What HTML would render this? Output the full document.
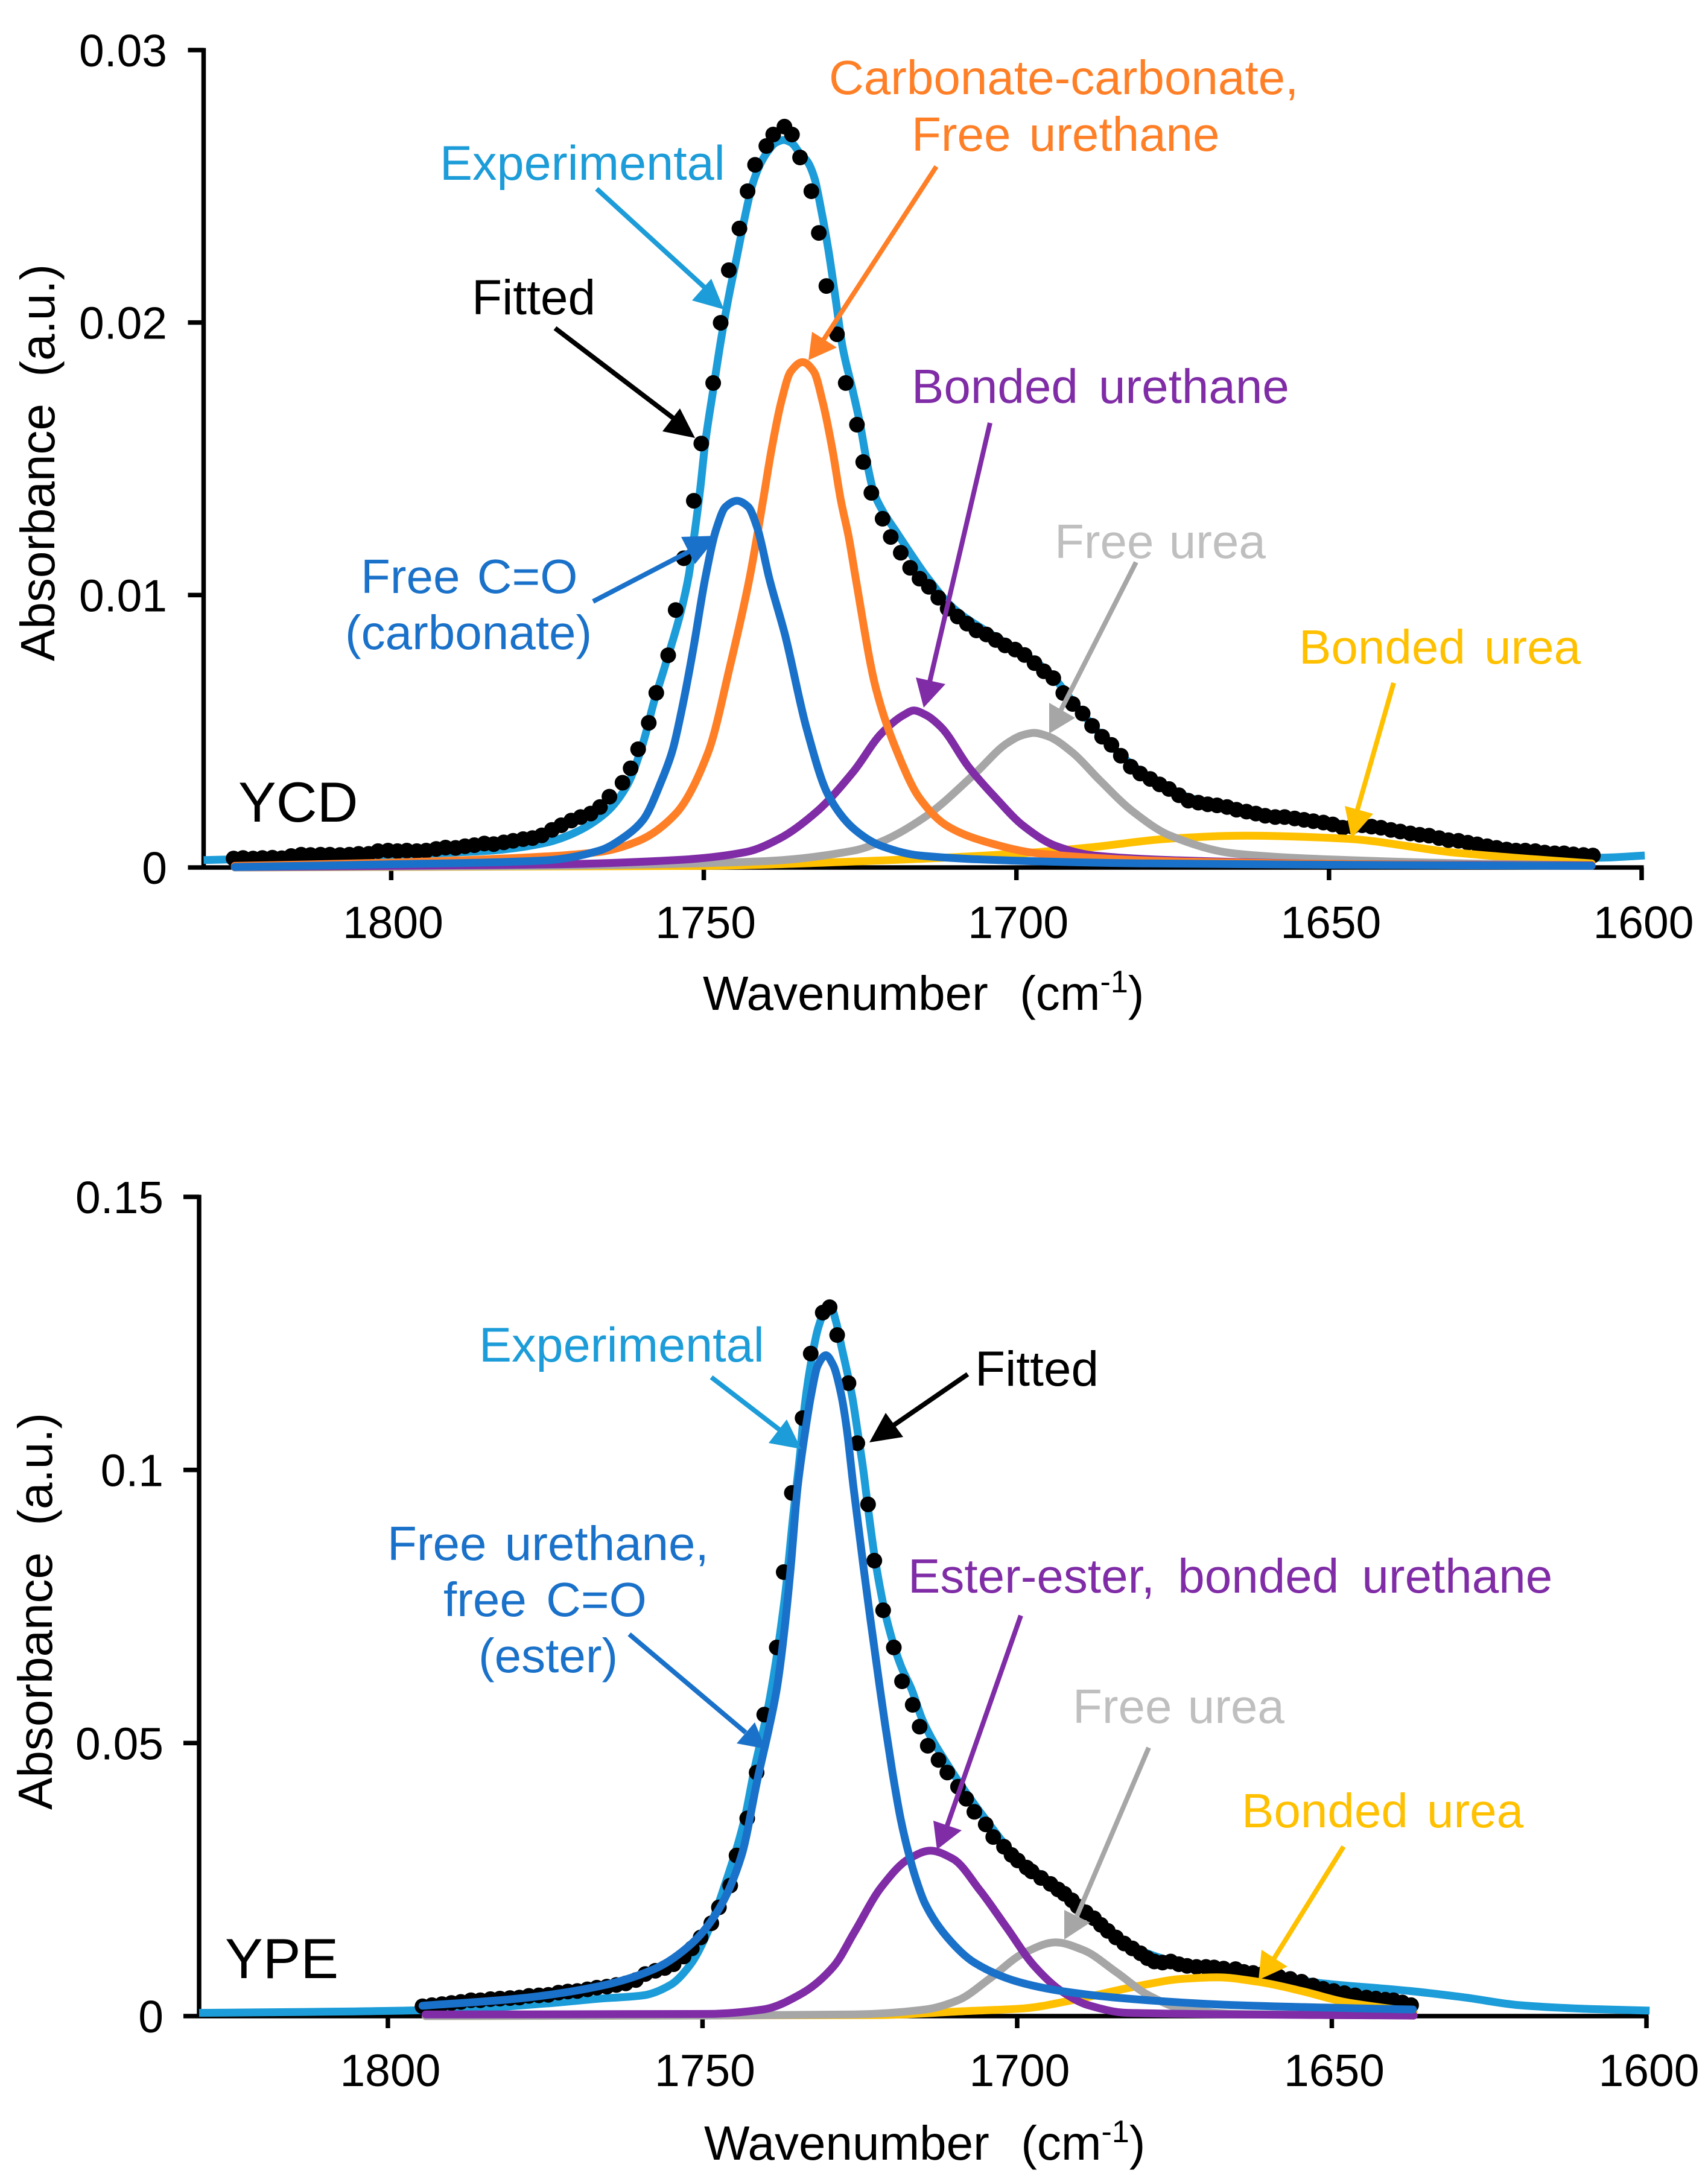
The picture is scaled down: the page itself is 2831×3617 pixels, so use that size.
<!DOCTYPE html>
<html lang="en">
<head>
<meta charset="utf-8">
<title>YCD and YPE carbonyl peak deconvolution</title>
<style>
html,body{margin:0;padding:0;background:#fff}
svg{display:block}
text{font-family:"Liberation Sans",Arial,sans-serif;white-space:pre}
.ann{font-size:80px}
.tick{font-size:75px;fill:#000}
</style>
</head>
<body>
<svg id="fig" xmlns="http://www.w3.org/2000/svg" width="2831" height="3617" viewBox="0 0 2831 3617">
<rect x="0" y="0" width="2831" height="3617" fill="#fff"/>
<g id="p1"></g>
<g id="p2"></g>

<!-- Panel 1 static labels -->
<text x="90" y="1096" transform="rotate(-90 90 1096)" class="ann">Absorbance  (a.u.)</text>
<text x="1165" y="1674" class="ann" style="word-spacing:4px">Wavenumber  (cm<tspan font-size="52" dy="-29">-1</tspan><tspan dy="29">)</tspan></text>
<text x="395" y="1362" font-size="94">YCD</text>
<text x="729" y="298" class="ann" style="font-size:81px" fill="#1c9cd8">Experimental</text>
<text x="782" y="521" class="ann" style="font-size:82px" fill="#000">Fitted</text>
<text x="1374" y="156" class="ann" fill="#ff7f27">Carbonate-carbonate,</text>
<text x="1511" y="250" class="ann" style="word-spacing:8px" fill="#ff7f27">Free urethane</text>
<text x="1511" y="668" class="ann" style="word-spacing:12px" fill="#7f2ca6">Bonded urethane</text>
<text x="1748" y="925" class="ann" style="word-spacing:3px" fill="#bfbfbf">Free urea</text>
<text x="2153" y="1100" class="ann" style="word-spacing:9px" fill="#ffc000">Bonded urea</text>
<text x="598" y="983" class="ann" style="word-spacing:6px" fill="#1a71c9">Free C=O</text>
<text x="572" y="1076" class="ann" fill="#1a71c9">(carbonate)</text>

<!-- Panel 2 static labels -->
<text x="86" y="3000" transform="rotate(-90 86 3000)" class="ann">Absorbance  (a.u.)</text>
<text x="1167" y="3580" class="ann" style="word-spacing:4px">Wavenumber  (cm<tspan font-size="52" dy="-29">-1</tspan><tspan dy="29">)</tspan></text>
<text x="373" y="3279" font-size="94">YPE</text>
<text x="794" y="2257" class="ann" style="font-size:81px" fill="#1c9cd8">Experimental</text>
<text x="1616" y="2297" class="ann" style="font-size:82px" fill="#000">Fitted</text>
<text x="642" y="2586" class="ann" style="word-spacing:8px" fill="#1a71c9">Free urethane,</text>
<text x="735" y="2679" class="ann" style="word-spacing:10px" fill="#1a71c9">free C=O</text>
<text x="793" y="2772" class="ann" fill="#1a71c9">(ester)</text>
<text x="1505" y="2640" class="ann" style="word-spacing:16px" fill="#7f2ca6">Ester-ester, bonded urethane</text>
<text x="1778" y="2856" class="ann" style="word-spacing:4px" fill="#bfbfbf">Free urea</text>
<text x="2058" y="3029" class="ann" style="word-spacing:9px" fill="#ffc000">Bonded urea</text>

<!-- Annotation arrows -->
<g stroke-width="8">
<g><line x1="989" y1="313" x2="1175" y2="483" stroke="#1c9cd8"/><polygon points="1200,513 1179,462 1147,498" fill="#1c9cd8"/></g>
<g><line x1="920" y1="544" x2="1125" y2="700" stroke="#000"/><polygon points="1152,726 1127,677 1098,715" fill="#000"/></g>
<g><line x1="1552" y1="276" x2="1362" y2="568" stroke="#ff7f27"/><polygon points="1340,597 1346,550 1387,576" fill="#ff7f27"/></g>
<g><line x1="983" y1="997" x2="1160" y2="905" stroke="#1a71c9"/><polygon points="1190,888 1129,890 1152,935" fill="#1a71c9"/></g>
<g><line x1="1641" y1="701" x2="1541" y2="1130" stroke="#7f2ca6"/><polygon points="1531,1173 1518,1123 1567,1134" fill="#7f2ca6"/></g>
<g><line x1="1883" y1="932" x2="1758" y2="1178" stroke="#a6a6a6"/><polygon points="1739,1216 1739,1165 1782,1190" fill="#a6a6a6"/></g>
<g><line x1="2310" y1="1132" x2="2250" y2="1342" stroke="#ffc000"/><polygon points="2240,1390 2229,1336 2276,1349" fill="#ffc000"/></g>
<g><line x1="1179" y1="2283" x2="1292" y2="2370" stroke="#1c9cd8"/><polygon points="1328,2402 1304,2353 1274,2392" fill="#1c9cd8"/></g>
<g><line x1="1604" y1="2278" x2="1482" y2="2362" stroke="#000"/><polygon points="1441,2391 1468,2342 1497,2382" fill="#000"/></g>
<g><line x1="1043" y1="2709" x2="1236" y2="2872" stroke="#1a71c9"/><polygon points="1269,2899 1251,2855 1221,2890" fill="#1a71c9"/></g>
<g><line x1="1692" y1="2678" x2="1570" y2="3026" stroke="#7f2ca6"/><polygon points="1553,3066 1547,3018 1594,3034" fill="#7f2ca6"/></g>
<g><line x1="1904" y1="2897" x2="1785" y2="3176" stroke="#a6a6a6"/><polygon points="1764,3215 1764,3166 1807,3187" fill="#a6a6a6"/></g>
<g><line x1="2227" y1="3061" x2="2112" y2="3246" stroke="#ffc000"/><polygon points="2086,3282 2091,3232 2134,3260" fill="#ffc000"/></g>
</g>
</svg>

<script>
// ===== shared axis labels =====
const xTicks = [1800, 1750, 1700, 1650, 1600];

// ===== YCD panel data =====
const ycdYTicks = [0, 0.01, 0.02, 0.03];
const ycdYTickLabels = ["0", "0.01", "0.02", "0.03"];

const ycdExpW = [1830,1815,1800,1790,1784,1775.4,1771,1765.8,1762.3,1759.7,1758,1756.2,1753.6,1752.4,1751.6,1750.6,1749.8,1748.5,1747.2,1745.8,1744.9,1743.5,1742.3,1741,1739.7,1738.5,1737.2,1736,1734.6,1733.4,1732.3,1731.2,1730.1,1729,1727.8,1726.2,1725,1723.9,1722.8,1721.4,1719.1,1717.2,1714.3,1710,1705,1700,1695,1690,1685,1680,1675,1670,1660,1650,1640,1630,1620,1610,1606.5,1599.5];
const ycdExpA = [0.00027,0.00036,0.00045,0.00055,0.00062,0.0009,0.00124,0.00198,0.003,0.00458,0.00605,0.0074,0.00945,0.01073,0.01206,0.01383,0.01553,0.01752,0.01944,0.0212,0.0222,0.0238,0.025,0.0258,0.0263,0.0266,0.0267,0.0266,0.0262,0.0259,0.0253,0.0241,0.0227,0.021,0.0191,0.01752,0.01627,0.01486,0.01376,0.01309,0.01228,0.01162,0.01066,0.0095,0.0087,0.008,0.0072,0.0058,0.0045,0.0035,0.0028,0.0024,0.0019,0.00165,0.00135,0.00098,0.00065,0.00042,0.00036,0.00044];

const ycdFreeW = [1825,1801.6,1775.4,1766.7,1762.3,1759.7,1756.7,1755,1753.6,1751.7,1749.8,1748,1746.5,1744.7,1742.9,1741.4,1739.5,1737,1733.6,1730.1,1725.9,1721.6,1715.5,1700,1680,1650,1608];
const ycdFreeA = [0.00002,0.00011,0.00026,0.00062,0.00119,0.00175,0.00322,0.0043,0.0057,0.008,0.01058,0.01243,0.01324,0.01346,0.01324,0.01243,0.01058,0.00853,0.00514,0.00266,0.0014,0.00079,0.00044,0.00025,0.00015,0.0001,0.00006];

const ycdOrangeW = [1825,1801.6,1784,1766.7,1760.6,1754.5,1749.3,1745.8,1742.7,1740.5,1739.2,1737.6,1736.1,1734.2,1732.4,1731,1729.4,1728.1,1726.8,1725.7,1722.5,1719,1715.5,1711.1,1705,1696.3,1673.7,1645,1608];
const ycdOrangeA = [0.00006,0.00017,0.00031,0.00057,0.00096,0.00197,0.00423,0.0074,0.0106,0.0135,0.0153,0.0171,0.0182,0.01855,0.0182,0.0171,0.0153,0.0135,0.0121,0.0106,0.0066,0.0042,0.00255,0.00153,0.00095,0.00051,0.00022,0.00012,0.00006];

const ycdPurpleW = [1825,1775.4,1753.9,1743.2,1737.9,1731.8,1726,1721.6,1718,1716.4,1714.5,1712,1707.6,1703.3,1698.9,1693.7,1687.6,1673.7,1645,1608];
const ycdPurpleA = [0.00002,0.00011,0.00028,0.00057,0.00106,0.00208,0.00354,0.00492,0.0056,0.00576,0.0056,0.00514,0.00368,0.00255,0.00153,0.00079,0.00044,0.00026,0.00012,0.00008];

const ycdGreyW = [1825,1775.4,1740.5,1726,1721.6,1714.6,1706.7,1701.5,1699,1697.2,1695,1691.1,1686.7,1681.5,1675.4,1665,1649.2,1621.3,1608];
const ycdGreyA = [0,0.00006,0.00023,0.00062,0.00095,0.00186,0.00343,0.00456,0.00486,0.00494,0.00482,0.00423,0.00321,0.00208,0.00117,0.00051,0.00029,0.00012,0.00008];

const ycdYellowW = [1825,1750,1726,1699.8,1688.5,1675.4,1663.2,1647.5,1630,1617,1608];
const ycdYellowA = [0,0.00006,0.00022,0.00051,0.00073,0.00106,0.00117,0.00106,0.00055,0.0003,0.00015];

const ycdDotW = [1825.2,1823.7,1822.1,1820.6,1819,1817.5,1816,1814.4,1812.9,1811.3,1809.8,1808.2,1806.7,1805.2,1803.6,1802.1,1800.5,1799,1797.5,1795.9,1794.4,1792.8,1791.3,1789.7,1788.2,1786.7,1785.1,1783.6,1782,1780.5,1778.9,1777.4,1775.9,1774.3,1772.8,1771.2,1769.7,1768.1,1766.6,1765.1,1763,1761.7,1760.5,1758.8,1757.6,1755.7,1754.5,1753.2,1751.6,1750.4,1748.5,1747.3,1746,1744.3,1743,1741.8,1740,1738.9,1737.1,1735.9,1734.6,1732.8,1731.6,1730.4,1728.7,1727.3,1725.5,1724.5,1723.2,1721.4,1720.1,1718.5,1717,1715.5,1714,1712.5,1711,1709.4,1707.9,1706.4,1704.8,1703.3,1701.8,1700.2,1698.7,1697.1,1695.6,1694.1,1692.5,1691,1689.4,1687.9,1686.3,1684.8,1683.3,1681.7,1680.2,1678.6,1677.1,1675.6,1674,1672.5,1670.9,1669.4,1667.9,1666.3,1664.8,1663.2,1661.7,1660.2,1658.6,1657.1,1655.5,1654,1652.5,1650.9,1649.4,1647.8,1646.3,1644.7,1643.2,1641.7,1640.1,1638.6,1637,1635.5,1634,1632.4,1630.9,1629.3,1627.8,1626.3,1624.7,1623.2,1621.6,1620.1,1618.6,1617,1615.5,1613.9,1612.4,1610.9,1609.3,1607.8];
const ycdDotA = [0.00033,0.00035,0.00033,0.00035,0.00036,0.00034,0.00042,0.00047,0.00046,0.00047,0.00047,0.00046,0.00047,0.0005,0.0005,0.0006,0.00062,0.0006,0.00062,0.0006,0.00062,0.00068,0.00073,0.00072,0.00078,0.00082,0.00088,0.00086,0.00092,0.00098,0.00104,0.00108,0.00118,0.00138,0.00155,0.00172,0.00185,0.00198,0.00222,0.0026,0.00311,0.00364,0.00434,0.00531,0.00641,0.00779,0.00945,0.01135,0.01346,0.01556,0.01778,0.01999,0.02192,0.02345,0.02482,0.02579,0.02648,0.0269,0.02719,0.0269,0.02606,0.02482,0.02329,0.02134,0.01957,0.01778,0.01625,0.01488,0.01375,0.0128,0.01213,0.01155,0.0110,0.0106,0.0103,0.0099,0.0095,0.00921,0.00895,0.0087,0.00855,0.00835,0.00815,0.008,0.0078,0.0075,0.0072,0.00695,0.0064,0.006,0.00565,0.0052,0.0048,0.0045,0.0041,0.0037,0.00345,0.00325,0.00305,0.00288,0.00265,0.00245,0.00238,0.00232,0.00228,0.00222,0.00212,0.00205,0.00198,0.0019,0.00185,0.00185,0.0018,0.00175,0.0017,0.00165,0.00158,0.00146,0.0015,0.00155,0.0015,0.00146,0.00138,0.00132,0.00125,0.0012,0.00117,0.00108,0.001,0.00098,0.00091,0.00085,0.00078,0.00072,0.00066,0.00062,0.00062,0.0006,0.00055,0.00052,0.00052,0.00048,0.00046,0.00044];

// ===== YPE panel data =====
const ypeYTicks = [0, 0.05, 0.1, 0.15];
const ypeYTickLabels = ["0", "0.05", "0.1", "0.15"];

const ypeExpW = [1830,1810,1790,1775,1766.3,1759.4,1755.1,1751.7,1749.1,1746.4,1743.4,1741.7,1739.5,1736.9,1735.6,1734.4,1733.8,1732.9,1731.6,1730.5,1729.6,1728.8,1727.9,1726.2,1725.3,1724.5,1723.7,1722.6,1720.7,1718.5,1716.8,1715,1711.1,1705,1700,1695,1690,1685,1680,1675,1670,1665,1652.2,1637.6,1628.8,1620.2,1609,1599.5];
const ypeExpA = [0.0006,0.0008,0.0012,0.0023,0.0032,0.0038,0.0057,0.0098,0.0156,0.0242,0.0357,0.0455,0.057,0.0769,0.0915,0.104,0.1114,0.1187,0.1261,0.1292,0.1298,0.1272,0.1225,0.1133,0.1066,0.1004,0.093,0.0838,0.0725,0.0642,0.0599,0.0541,0.0461,0.036,0.029,0.0248,0.02,0.015,0.0118,0.01,0.0092,0.0085,0.0061,0.0046,0.0034,0.002,0.0013,0.001];

const ypeFreeW = [1794.5,1779.4,1766.3,1757.7,1751.7,1747.4,1743.8,1741.2,1739.5,1738.2,1737,1736,1734.9,1733.6,1732.7,1731.7,1730.4,1729.2,1728,1727.1,1726,1724.4,1723.3,1721.8,1721,1719.8,1718.5,1717.2,1716,1714.6,1711.1,1706.8,1699.9,1693,1682.5,1665.3,1637.1];
const ypeFreeA = [0.0019,0.0032,0.0055,0.0086,0.0133,0.0196,0.0294,0.0437,0.0524,0.0599,0.0705,0.082,0.0967,0.1077,0.114,0.1191,0.121,0.1191,0.114,0.1077,0.0967,0.082,0.0725,0.0599,0.0535,0.0445,0.036,0.0296,0.0248,0.0205,0.0144,0.0098,0.0063,0.0046,0.0032,0.002,0.0012];

const ypePurpleW = [1794,1749,1740.4,1734.3,1729.1,1725.9,1721.6,1717.2,1713.8,1710.2,1705.9,1701.6,1697.3,1693,1688.7,1682.5,1637];
const ypePurpleA = [0.0003,0.0004,0.0012,0.0041,0.0092,0.0153,0.0236,0.0288,0.0303,0.0288,0.023,0.0161,0.0092,0.0046,0.002,0.0006,0.0001];

const ypeGreyW = [1794,1750,1725.9,1714.6,1709.4,1704.2,1699,1693.9,1689.5,1684.3,1679.1,1673.9,1665,1637];
const ypeGreyA = [0,0.0001,0.0003,0.0012,0.0029,0.007,0.0115,0.0135,0.0121,0.0081,0.0038,0.0014,0.0004,0.0001];

const ypeYellowW = [1794,1721.6,1708.5,1699,1691.3,1680.8,1673.9,1668.2,1661.8,1654.8,1648,1637];
const ypeYellowA = [0,0.0002,0.0009,0.0014,0.0029,0.0055,0.0068,0.0071,0.0063,0.0046,0.0026,0.0008];

const ypeDotW = [1794.5,1793,1791.4,1789.9,1788.4,1786.8,1785.3,1783.7,1782.2,1780.6,1779.1,1777.6,1776,1774.5,1772.9,1771.4,1769.9,1768.3,1766.8,1765.2,1763.7,1762.2,1760.6,1759.1,1757.5,1756,1754.6,1753,1751.7,1750.3,1748.6,1747.4,1745.6,1744.6,1742.9,1741.4,1740.2,1738.2,1737.1,1735.8,1734.1,1732.8,1730.9,1729.8,1728.6,1726.8,1725.4,1723.7,1722.7,1721.3,1719.6,1718.3,1716.6,1715.5,1714.2,1712.5,1711.1,1709.4,1708.1,1706.8,1705,1703.8,1702.1,1700.9,1699.9,1698.5,1697.7,1696.2,1694.7,1693.5,1692.5,1691.3,1690.4,1689.1,1687.8,1686.7,1685.6,1684.3,1683,1681.7,1680.4,1679.3,1678.2,1676.9,1675.6,1674.3,1673,1671.5,1670,1668.7,1667.2,1665.3,1664,1662.5,1661,1659.7,1658.4,1656.6,1654.8,1653,1651.4,1649.7,1648,1646.3,1644.5,1643,1641.5,1640.2,1638.8,1637.4];
const ypeDotA = [0.0018,0.002,0.0022,0.0024,0.0026,0.0029,0.0029,0.0031,0.0032,0.0033,0.0034,0.0037,0.0038,0.0039,0.0043,0.0045,0.0046,0.0049,0.0052,0.0054,0.0057,0.006,0.0066,0.0077,0.0083,0.0088,0.0095,0.0109,0.0124,0.0144,0.017,0.0199,0.0239,0.0294,0.0362,0.0446,0.0552,0.0675,0.0813,0.0958,0.1095,0.1213,0.1288,0.1298,0.1247,0.1159,0.1049,0.0937,0.0834,0.0743,0.0675,0.0613,0.057,0.053,0.0495,0.0469,0.0446,0.042,0.0398,0.0374,0.0351,0.0328,0.031,0.0295,0.0285,0.0272,0.0265,0.0253,0.0242,0.0232,0.0224,0.0212,0.0201,0.019,0.0179,0.0167,0.0156,0.0144,0.0133,0.0124,0.0115,0.0106,0.01,0.0098,0.01,0.0095,0.0092,0.009,0.009,0.0089,0.0087,0.0086,0.0081,0.0079,0.0077,0.0074,0.0072,0.0068,0.0063,0.0056,0.005,0.0046,0.0042,0.0038,0.0034,0.0032,0.003,0.0029,0.0025,0.002];

// ===== drawing =====
const NS = 'http://www.w3.org/2000/svg';
function mk(tag, parent) {
  const el = document.createElementNS(NS, tag);
  parent.appendChild(el);
  return el;
}
// monotone cubic path through the points (x strictly increasing)
function smoothPath(pts) {
  const n = pts.length, dx = [], s = [], m = [];
  for (let i = 0; i < n - 1; i++) {
    dx[i] = pts[i + 1][0] - pts[i][0];
    s[i] = (pts[i + 1][1] - pts[i][1]) / dx[i];
  }
  m[0] = s[0];
  m[n - 1] = s[n - 2];
  for (let i = 1; i < n - 1; i++) {
    if (s[i - 1] * s[i] <= 0) { m[i] = 0; continue; }
    const w1 = 2 * dx[i] + dx[i - 1], w2 = dx[i] + 2 * dx[i - 1];
    m[i] = (w1 + w2) / (w1 / s[i - 1] + w2 / s[i]);
  }
  let d = 'M' + pts[0][0].toFixed(1) + ' ' + pts[0][1].toFixed(1);
  for (let i = 0; i < n - 1; i++) {
    const h = dx[i] / 3;
    d += 'C' + (pts[i][0] + h).toFixed(1) + ' ' + (pts[i][1] + m[i] * h).toFixed(1) + ' ' +
         (pts[i + 1][0] - h).toFixed(1) + ' ' + (pts[i + 1][1] - m[i + 1] * h).toFixed(1) + ' ' +
         pts[i + 1][0].toFixed(1) + ' ' + pts[i + 1][1].toFixed(1);
  }
  return d;
}
function drawPanel(cfg) {
  const g = document.getElementById(cfg.id);
  const xs = w => cfg.left + (1830 - w) * (cfg.right - cfg.left) / 230;
  const ys = a => cfg.bottom - a * (cfg.bottom - cfg.top) / cfg.yMax;

  // axes
  const yAxis = mk('line', g);
  
  
  yAxis.setAttribute('x1', cfg.left); yAxis.setAttribute('x2', cfg.left);
  yAxis.setAttribute('y1', cfg.top - 3.5); yAxis.setAttribute('y2', cfg.bottom + 3.5);
  yAxis.setAttribute('stroke', '#000'); yAxis.setAttribute('stroke-width', 7.5);

  const xAxis = mk('line', g);
  
  
  xAxis.setAttribute('x1', cfg.left); xAxis.setAttribute('x2', cfg.right + 3.5);
  xAxis.setAttribute('y1', cfg.bottom); xAxis.setAttribute('y2', cfg.bottom);
  xAxis.setAttribute('stroke', '#000'); xAxis.setAttribute('stroke-width', 7.5);

  cfg.yTicks.forEach((v, i) => {
    const t = mk('line', g);
    
    
    t.setAttribute('x1', cfg.left - 26); t.setAttribute('x2', cfg.left);
    t.setAttribute('y1', ys(v)); t.setAttribute('y2', ys(v));
    t.setAttribute('stroke', '#000'); t.setAttribute('stroke-width', 7.5);
    const lab = mk('text', g);
    
    
    lab.setAttribute('class', 'tick');
    lab.setAttribute('x', cfg.yLabelX);
    lab.setAttribute('y', ys(v) + 27);
    lab.setAttribute('text-anchor', 'end');
    lab.textContent = cfg.yLabels[i];
  });
  xTicks.forEach(v => {
    const t = mk('line', g);
    
    
    t.setAttribute('x1', xs(v)); t.setAttribute('x2', xs(v));
    t.setAttribute('y1', cfg.bottom); t.setAttribute('y2', cfg.bottom + cfg.tickLen);
    t.setAttribute('stroke', '#000'); t.setAttribute('stroke-width', 7.5);
    const lab = mk('text', g);
    
    
    lab.setAttribute('class', 'tick');
    lab.setAttribute('x', xs(v) + cfg.xLabelOff);
    lab.setAttribute('y', cfg.xLabelY);
    lab.setAttribute('text-anchor', 'middle');
    lab.textContent = String(v);
  });

  // experimental line goes under the dots
  const drawLine = (s) => {
    const pts = s.w.map((w, i) => [xs(w), ys(s.a[i])]);
    const p = mk('path', g);
    
    
    p.setAttribute('d', smoothPath(pts));
    p.setAttribute('fill', 'none');
    p.setAttribute('stroke', s.color);
    p.setAttribute('stroke-width', 13);
    p.setAttribute('stroke-linecap', s.cap || 'round');
    p.setAttribute('stroke-linejoin', 'round');
  };
  drawLine(cfg.lines[0]);
  cfg.dotW.forEach((w, i) => {
    const c = mk('circle', g);
    
    
    c.setAttribute('cx', xs(w).toFixed(1));
    c.setAttribute('cy', ys(cfg.dotA[i]).toFixed(1));
    c.setAttribute('r', 13);
    c.setAttribute('fill', '#000');
  });
  cfg.lines.slice(1).forEach(drawLine);
}

drawPanel({
  id: 'p1', prefix: 'ycd', left: 337.5, right: 2721, top: 83, bottom: 1438, yMax: 0.03,
  yTicks: ycdYTicks, yLabels: ycdYTickLabels, yLabelX: 277, xLabelY: 1555, xLabelOff: 3, tickLen: 21,
  dotW: ycdDotW, dotA: ycdDotA,
  lines: [
    { name: 'experimental', w: ycdExpW, a: ycdExpA, color: '#1c9cd8', cap: 'butt' },
    { name: 'bonded-urea', w: ycdYellowW, a: ycdYellowA, color: '#ffc000' },
    { name: 'free-urea', w: ycdGreyW, a: ycdGreyA, color: '#a6a6a6' },
    { name: 'bonded-urethane', w: ycdPurpleW, a: ycdPurpleA, color: '#7f2ca6' },
    { name: 'free-urethane', w: ycdOrangeW, a: ycdOrangeA, color: '#ff7f27' },
    { name: 'free-co', w: ycdFreeW, a: ycdFreeA, color: '#1a71c9' }
  ]
});
drawPanel({
  id: 'p2', prefix: 'ype', left: 330, right: 2729, top: 1984, bottom: 3342, yMax: 0.15,
  yTicks: ypeYTicks, yLabels: ypeYTickLabels, yLabelX: 271, xLabelY: 3458, xLabelOff: 4, tickLen: 20,
  dotW: ypeDotW, dotA: ypeDotA,
  lines: [
    { name: 'experimental', w: ypeExpW, a: ypeExpA, color: '#1c9cd8', cap: 'butt' },
    { name: 'bonded-urea', w: ypeYellowW, a: ypeYellowA, color: '#ffc000' },
    { name: 'free-urea', w: ypeGreyW, a: ypeGreyA, color: '#a6a6a6' },
    { name: 'bonded-urethane', w: ypePurpleW, a: ypePurpleA, color: '#7f2ca6' },
    { name: 'free-co', w: ypeFreeW, a: ypeFreeA, color: '#1a71c9' }
  ]
});
</script>
</body>
</html>
